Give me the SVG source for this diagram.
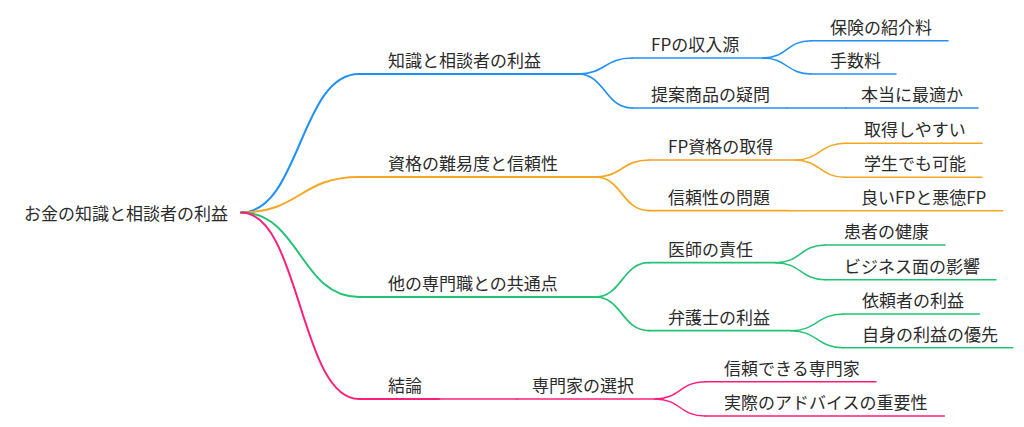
<svg xmlns="http://www.w3.org/2000/svg" width="1024" height="427" viewBox="0 0 1024 427">
<style>
text{font-family:"Noto Sans CJK JP","Noto Sans",sans-serif;font-size:17px;fill:#2b2b2b}
path{fill:none;stroke-linecap:round}
.b{stroke:#2090f8}.o{stroke:#f5a623}.g{stroke:#22c474}.p{stroke:#ff1f7a}
.d1{stroke-width:2}.d2{stroke-width:1.7}.d3{stroke-width:1.5}
</style>
<rect width="1024" height="427" fill="#fff"/>
<g id="connectors">
<path class="b d1" d="M241,212.5 C300,212.5 300,74 359,74"/>
<path class="o d1" d="M241,212.5 C300,212.5 300,177 359,177"/>
<path class="g d1" d="M241,212.5 C300,212.5 300,297 359,297"/>
<path class="p d1" d="M241,212.5 C300,212.5 300,399 359,399"/>
<path class="b d2" d="M578,74 C605,74 605,58 632,58"/>
<path class="b d2" d="M578,74 C605,74 605,108 632,108"/>
<path class="o d2" d="M595,177 C622,177 622,160 649,160"/>
<path class="o d2" d="M595,177 C622,177 622,210.7 649,210.7"/>
<path class="g d2" d="M595,297 C622,297 622,262.7 649,262.7"/>
<path class="g d2" d="M595,297 C622,297 622,330.7 649,330.7"/>
<path class="p d2" d="M439,399 L517,399"/>
<path class="b d3" d="M763,58 C787,58 787,40.7 811,40.7"/>
<path class="b d3" d="M763,58 C787,58 787,74 811,74"/>
<path class="b d3" d="M787,108 L846,108"/>
<path class="o d3" d="M795,160 C820,160 820,143.3 845,143.3"/>
<path class="o d3" d="M795,160 C820,160 820,177.3 845,177.3"/>
<path class="o d3" d="M787,210.7 L846,210.7"/>
<path class="g d3" d="M776,262.7 C800.5,262.7 800.5,245 825,245"/>
<path class="g d3" d="M776,262.7 C800.5,262.7 800.5,279.7 825,279.7"/>
<path class="g d3" d="M791,330.7 C817,330.7 817,314 843,314"/>
<path class="g d3" d="M791,330.7 C817,330.7 817,347.7 843,347.7"/>
<path class="p d3" d="M655,399 C680,399 680,381.7 705,381.7"/>
<path class="p d3" d="M655,399 C680,399 680,416 705,416"/>
</g>
<g id="root"><text x="24" y="219.5">お金の知識と相談者の利益</text></g>
<g id="n1"><path class="b d1" d="M359,74 H578"/><text x="388" y="67">知識と相談者の利益</text></g>
<g id="n1a"><path class="b d2" d="M632,58 H763"/><text x="651" y="51">FPの収入源</text></g>
<g id="n1a1"><path class="b d3" d="M811,40.7 H948"/><text x="830" y="33.5">保険の紹介料</text></g>
<g id="n1a2"><path class="b d3" d="M811,74 H896"/><text x="830" y="66.7">手数料</text></g>
<g id="n1b"><path class="b d2" d="M632,108 H787"/><text x="651" y="101">提案商品の疑問</text></g>
<g id="n1b1"><path class="b d3" d="M846,108 H978"/><text x="861" y="101">本当に最適か</text></g>
<g id="n2"><path class="o d1" d="M359,177 H595"/><text x="388" y="170">資格の難易度と信頼性</text></g>
<g id="n2a"><path class="o d2" d="M649,160 H795"/><text x="668" y="153">FP資格の取得</text></g>
<g id="n2a1"><path class="o d3" d="M845,143.3 H982"/><text x="864" y="136">取得しやすい</text></g>
<g id="n2a2"><path class="o d3" d="M845,177.3 H982"/><text x="864" y="170">学生でも可能</text></g>
<g id="n2b"><path class="o d2" d="M649,210.7 H787"/><text x="668" y="203.5">信頼性の問題</text></g>
<g id="n2b1"><path class="o d3" d="M846,210.7 H1002.7"/><text x="861" y="203.5">良いFPと悪徳FP</text></g>
<g id="n3"><path class="g d1" d="M359,297 H595"/><text x="388" y="290">他の専門職との共通点</text></g>
<g id="n3a"><path class="g d2" d="M649,262.7 H776"/><text x="668" y="255.5">医師の責任</text></g>
<g id="n3a1"><path class="g d3" d="M825,245 H945"/><text x="844" y="237.8">患者の健康</text></g>
<g id="n3a2"><path class="g d3" d="M825,279.7 H996"/><text x="844" y="272.5">ビジネス面の影響</text></g>
<g id="n3b"><path class="g d2" d="M649,330.7 H791"/><text x="668" y="323.5">弁護士の利益</text></g>
<g id="n3b1"><path class="g d3" d="M843,314 H979.3"/><text x="862" y="306.8">依頼者の利益</text></g>
<g id="n3b2"><path class="g d3" d="M843,347.7 H1012.7"/><text x="862" y="340.5">自身の利益の優先</text></g>
<g id="n4"><path class="p d1" d="M359,399 H439"/><text x="388" y="392">結論</text></g>
<g id="n4a"><path class="p d2" d="M517,399 H655"/><text x="532" y="392">専門家の選択</text></g>
<g id="n4a1"><path class="p d3" d="M705,381.7 H876"/><text x="724" y="374.5">信頼できる専門家</text></g>
<g id="n4a2"><path class="p d3" d="M705,416 H944.3"/><text x="724" y="408.8">実際のアドバイスの重要性</text></g>
</svg>
